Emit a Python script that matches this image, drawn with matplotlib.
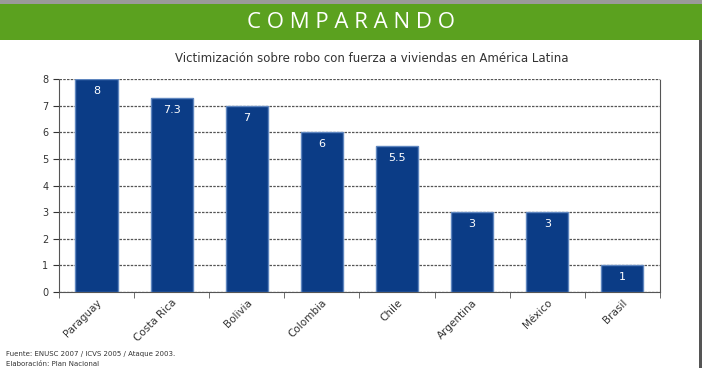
import matplotlib.pyplot as plt
import numpy as np
from matplotlib.patches import Rectangle

# Data
paises = ["Paraguay", "Costa Rica", "Bolivia", "Colombia", "Chile",
          "Argentina", "México", "Brasil"]
valores = [8, 7.3, 7, 6, 5.5, 3, 3, 1]
etiquetas = ["8", "7.3", "7", "6", "5.5", "3", "3", "1"]

fig = plt.figure(figsize=(7.02, 3.68), dpi=100)

# Green banner on top
fig.patches.append(Rectangle((0, 0.89), 1, 0.10, transform=fig.transFigure,
                             facecolor="#5ba11f", edgecolor="none"))
fig.patches.append(Rectangle((0, 0.99), 1, 0.01, transform=fig.transFigure,
                             facecolor="#9a9a9a", edgecolor="none"))
fig.patches.append(Rectangle((0.996, 0), 0.004, 0.89, transform=fig.transFigure,
                             facecolor="#555555", edgecolor="none"))
fig.text(0.5, 0.94, "C O M P A R A N D O", color="white", fontsize=16,
         ha="center", va="center", family="Open Sans")

fig.text(0.53, 0.84, "Victimización sobre robo con fuerza a viviendas en América Latina",
         ha="center", va="center", fontsize=8.5, color="#333333")

ax = fig.add_axes([0.084, 0.2065, 0.856, 0.5785])
x = np.arange(len(paises))
bars = ax.bar(x, valores, width=0.56, color="#0b3c86", edgecolor="#5f86bf",
              linewidth=1, zorder=3)

for xi, v, t in zip(x, valores, etiquetas):
    ax.text(xi, v - 0.45, t, color="white", ha="center", va="center",
            fontsize=8, zorder=4)

ax.set_xlim(-0.5, len(paises) - 0.5)
ax.set_ylim(0, 8)
ax.set_yticks(range(0, 9))
ax.yaxis.grid(True, linestyle=(0, (2, 1)), color="#555555", linewidth=0.9, zorder=0)
ax.set_xticks(x)
ax.set_xticklabels(paises, rotation=45, ha="right", rotation_mode="anchor",
                   fontsize=7.5, color="#333333")
ax.set_xticks(np.arange(-0.5, len(paises), 1), minor=True)
ax.tick_params(axis="x", which="major", length=0, pad=4)
ax.tick_params(axis="x", which="minor", length=4, color="#555555")
ax.tick_params(axis="y", labelsize=7, colors="#333333", length=4)
for s in ["left", "bottom", "right"]:
    ax.spines[s].set_color("#555555")
    ax.spines[s].set_linestyle((0, (2, 1)))
ax.spines["top"].set_visible(False)

fig.text(0.008, 0.038, "Fuente: ENUSC 2007 / ICVS 2005 / Ataque 2003.",
         fontsize=5, color="#333333", ha="left", va="center")
fig.text(0.008, 0.002, "Elaboración: Plan Nacional", fontsize=5, color="#333333",
         ha="left", va="bottom")

fig.savefig("out.png", dpi=100)
